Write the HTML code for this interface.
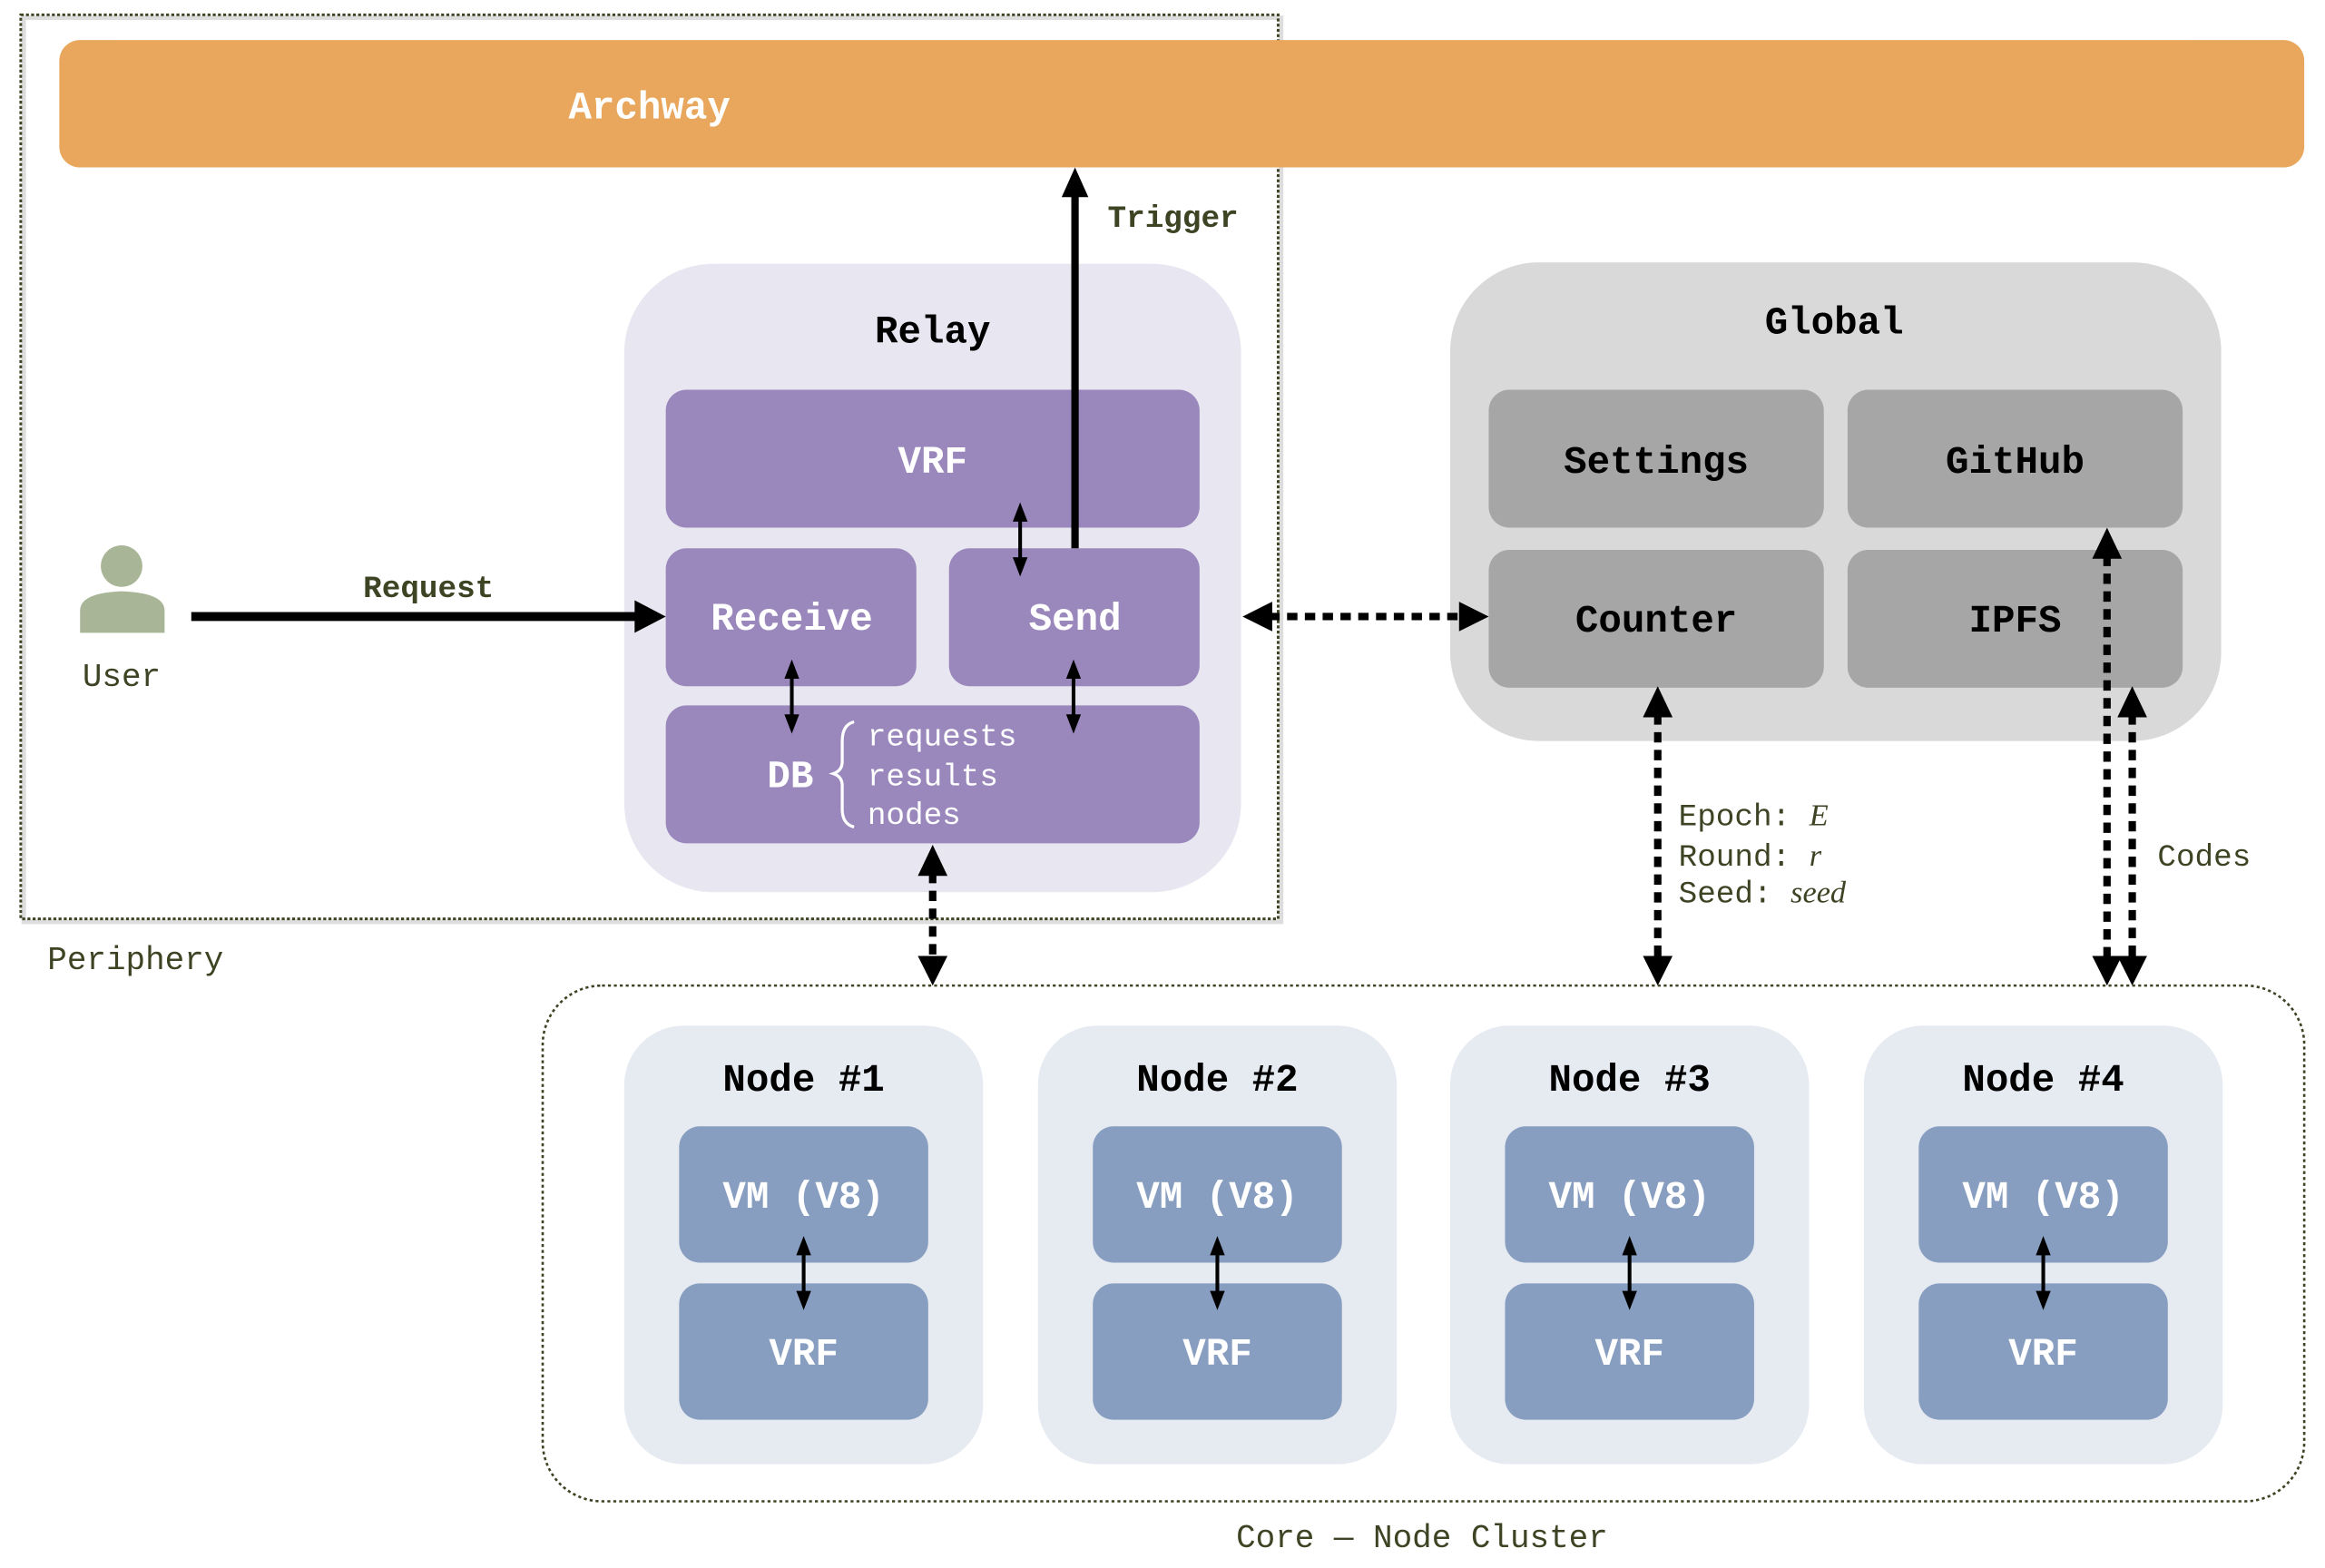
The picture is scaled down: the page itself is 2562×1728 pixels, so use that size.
<!DOCTYPE html>
<html><head><meta charset="utf-8"><style>
html,body{margin:0;padding:0;background:#fff;}
svg{display:block;}
text{font-family:"Liberation Mono","DejaVu Sans Mono",monospace;}
.b{font-weight:bold;}
</style></head><body>
<svg width="2562" height="1728" viewBox="0 0 1568 1058" preserveAspectRatio="none" xmlns="http://www.w3.org/2000/svg">
<rect width="1568" height="1058" fill="#fff"/>
<!-- Periphery -->
<rect x="16" y="12" width="848" height="610" fill="none" stroke="#bbb" stroke-width="3" opacity="0.5"/>
<rect x="14" y="10" width="848" height="610" fill="none" stroke="#3d4424" stroke-width="1.8" stroke-dasharray="2 1.5"/>
<text x="32" y="654" font-size="22" fill="#3d4424">Periphery</text>
<!-- Archway -->
<rect x="40" y="27" width="1514" height="86" rx="14" fill="#E8A75C"/>
<text x="438" y="80" font-size="26" fill="#fff" class="b" text-anchor="middle">Archway</text>
<!-- Relay -->
<rect x="421" y="178" width="416" height="424" rx="60" fill="#E8E6F0"/>
<text x="629" y="231" font-size="26" class="b" text-anchor="middle">Relay</text>
<rect x="449" y="263" width="360" height="93" rx="14" fill="#9A88BD"/>
<text x="629" y="319" font-size="26" fill="#fff" class="b" text-anchor="middle">VRF</text>
<rect x="449" y="370" width="169" height="93" rx="14" fill="#9A88BD"/>
<text x="534" y="425" font-size="26" fill="#fff" class="b" text-anchor="middle">Receive</text>
<rect x="640" y="370" width="169" height="93" rx="14" fill="#9A88BD"/>
<text x="725" y="425" font-size="26" fill="#fff" class="b" text-anchor="middle">Send</text>
<rect x="449" y="476" width="360" height="93" rx="14" fill="#9A88BD"/>
<text x="533" y="531" font-size="26" fill="#fff" class="b" text-anchor="middle">DB</text>
<path d="M576 487 Q568 489 568 500 L568 514 Q568 520 562 522 Q568 524 568 530 L568 546 Q568 556 576 558" fill="none" stroke="#fff" stroke-width="2"/>
<text x="585" y="503" font-size="21" fill="#fff">requests</text>
<text x="585" y="530" font-size="21" fill="#fff">results</text>
<text x="585" y="556" font-size="21" fill="#fff">nodes</text>
<!-- Trigger -->
<line x1="725" y1="370" x2="725" y2="130" stroke="#000" stroke-width="5"/>
<polygon points="725,113 716,133 734,133" fill="#000"/>
<text x="747" y="153" font-size="21" fill="#3d4424" class="b">Trigger</text>
<!-- small double arrows -->
<g stroke="#000" stroke-width="2.5">
<line x1="688" y1="350" x2="688" y2="378"/>
<line x1="534" y1="456" x2="534" y2="484"/>
<line x1="724" y1="456" x2="724" y2="484"/>
</g>
<g fill="#000">
<polygon points="688,339 683,352 693,352"/><polygon points="688,389 683,376 693,376"/>
<polygon points="534,445 529,458 539,458"/><polygon points="534,495 529,482 539,482"/>
<polygon points="724,445 719,458 729,458"/><polygon points="724,495 719,482 729,482"/>
</g>
<!-- User -->
<circle cx="82" cy="382" r="14" fill="#A8B596"/>
<path d="M54 427 L54 412 Q54 400 82 399 Q111 400 111 412 L111 427 Z" fill="#A8B596"/>
<text x="82" y="463" font-size="22" fill="#3d4424" text-anchor="middle">User</text>
<line x1="129" y1="416" x2="432" y2="416" stroke="#000" stroke-width="6"/>
<polygon points="449,416 428,405 428,427" fill="#000"/>
<text x="289" y="403" font-size="21" fill="#3d4424" class="b" text-anchor="middle">Request</text>
<!-- Global -->
<rect x="978" y="177" width="520" height="323" rx="60" fill="#D9D9D9"/>
<text x="1237" y="225" font-size="26" class="b" text-anchor="middle">Global</text>
<rect x="1004" y="263" width="226" height="93" rx="14" fill="#A6A6A6"/>
<text x="1117" y="319" font-size="26" class="b" text-anchor="middle">Settings</text>
<rect x="1246" y="263" width="226" height="93" rx="14" fill="#A6A6A6"/>
<text x="1359" y="319" font-size="26" class="b" text-anchor="middle">GitHub</text>
<rect x="1004" y="371" width="226" height="93" rx="14" fill="#A6A6A6"/>
<text x="1117" y="426" font-size="26" class="b" text-anchor="middle">Counter</text>
<rect x="1246" y="371" width="226" height="93" rx="14" fill="#A6A6A6"/>
<text x="1359" y="426" font-size="26" class="b" text-anchor="middle">IPFS</text>
<!-- Relay-Global -->
<line x1="856" y1="416" x2="987" y2="416" stroke="#000" stroke-width="5" stroke-dasharray="7 5"/>
<polygon points="838,416 858,406 858,426" fill="#000"/>
<polygon points="1004,416 984,406 984,426" fill="#000"/>
<!-- dashed verticals -->
<g stroke="#000" stroke-width="5" stroke-dasharray="7 5">
<line x1="1118" y1="482" x2="1118" y2="648"/>
<line x1="1421" y1="375" x2="1421" y2="648"/>
<line x1="1438" y1="482" x2="1438" y2="648"/>
<line x1="629" y1="589" x2="629" y2="648"/>
</g>
<g fill="#000">
<polygon points="1118,463 1108,484 1128,484"/><polygon points="1118,665 1108,645 1128,645"/>
<polygon points="1421,356 1411,377 1431,377"/><polygon points="1421,665 1411,645 1431,645"/>
<polygon points="1438,463 1428,484 1448,484"/><polygon points="1438,665 1428,645 1448,645"/>
<polygon points="629,570 619,591 639,591"/><polygon points="629,665 619,645 639,645"/>
</g>
<text x="1132" y="557" font-size="21" fill="#3d4424">Epoch: <tspan font-family="Liberation Serif,serif" font-style="italic">E</tspan></text>
<text x="1132" y="584" font-size="21" fill="#3d4424">Round: <tspan font-family="Liberation Serif,serif" font-style="italic">r</tspan></text>
<text x="1132" y="609" font-size="21" fill="#3d4424">Seed: <tspan font-family="Liberation Serif,serif" font-style="italic">seed</tspan></text>
<text x="1455" y="584" font-size="21" fill="#3d4424">Codes</text>
<!-- Core cluster -->
<rect x="366" y="665" width="1188" height="348" rx="40" fill="none" stroke="#3d4424" stroke-width="1.6" stroke-dasharray="2 2"/>
<text x="959" y="1044" font-size="22" fill="#3d4424" text-anchor="middle">Core — Node Cluster</text>
<g>
<rect x="421" y="692" width="242" height="296" rx="40" fill="#E6EAF1"/>
<text x="542" y="736" font-size="26" class="b" text-anchor="middle">Node #1</text>
<rect x="458" y="760" width="168" height="92" rx="14" fill="#889EC0"/>
<text x="542" y="815" font-size="26" fill="#fff" class="b" text-anchor="middle">VM (V8)</text>
<rect x="458" y="866" width="168" height="92" rx="14" fill="#889EC0"/>
<text x="542" y="921" font-size="26" fill="#fff" class="b" text-anchor="middle">VRF</text>
<line x1="542" y1="845" x2="542" y2="873" stroke="#000" stroke-width="2.5"/>
<polygon points="542,834 537,847 547,847" fill="#000"/><polygon points="542,884 537,871 547,871" fill="#000"/>
</g>
<g transform="translate(279,0)">
<rect x="421" y="692" width="242" height="296" rx="40" fill="#E6EAF1"/>
<text x="542" y="736" font-size="26" class="b" text-anchor="middle">Node #2</text>
<rect x="458" y="760" width="168" height="92" rx="14" fill="#889EC0"/>
<text x="542" y="815" font-size="26" fill="#fff" class="b" text-anchor="middle">VM (V8)</text>
<rect x="458" y="866" width="168" height="92" rx="14" fill="#889EC0"/>
<text x="542" y="921" font-size="26" fill="#fff" class="b" text-anchor="middle">VRF</text>
<line x1="542" y1="845" x2="542" y2="873" stroke="#000" stroke-width="2.5"/>
<polygon points="542,834 537,847 547,847" fill="#000"/><polygon points="542,884 537,871 547,871" fill="#000"/>
</g>
<g transform="translate(557,0)">
<rect x="421" y="692" width="242" height="296" rx="40" fill="#E6EAF1"/>
<text x="542" y="736" font-size="26" class="b" text-anchor="middle">Node #3</text>
<rect x="458" y="760" width="168" height="92" rx="14" fill="#889EC0"/>
<text x="542" y="815" font-size="26" fill="#fff" class="b" text-anchor="middle">VM (V8)</text>
<rect x="458" y="866" width="168" height="92" rx="14" fill="#889EC0"/>
<text x="542" y="921" font-size="26" fill="#fff" class="b" text-anchor="middle">VRF</text>
<line x1="542" y1="845" x2="542" y2="873" stroke="#000" stroke-width="2.5"/>
<polygon points="542,834 537,847 547,847" fill="#000"/><polygon points="542,884 537,871 547,871" fill="#000"/>
</g>
<g transform="translate(836,0)">
<rect x="421" y="692" width="242" height="296" rx="40" fill="#E6EAF1"/>
<text x="542" y="736" font-size="26" class="b" text-anchor="middle">Node #4</text>
<rect x="458" y="760" width="168" height="92" rx="14" fill="#889EC0"/>
<text x="542" y="815" font-size="26" fill="#fff" class="b" text-anchor="middle">VM (V8)</text>
<rect x="458" y="866" width="168" height="92" rx="14" fill="#889EC0"/>
<text x="542" y="921" font-size="26" fill="#fff" class="b" text-anchor="middle">VRF</text>
<line x1="542" y1="845" x2="542" y2="873" stroke="#000" stroke-width="2.5"/>
<polygon points="542,834 537,847 547,847" fill="#000"/><polygon points="542,884 537,871 547,871" fill="#000"/>
</g>
</svg>
</body></html>
